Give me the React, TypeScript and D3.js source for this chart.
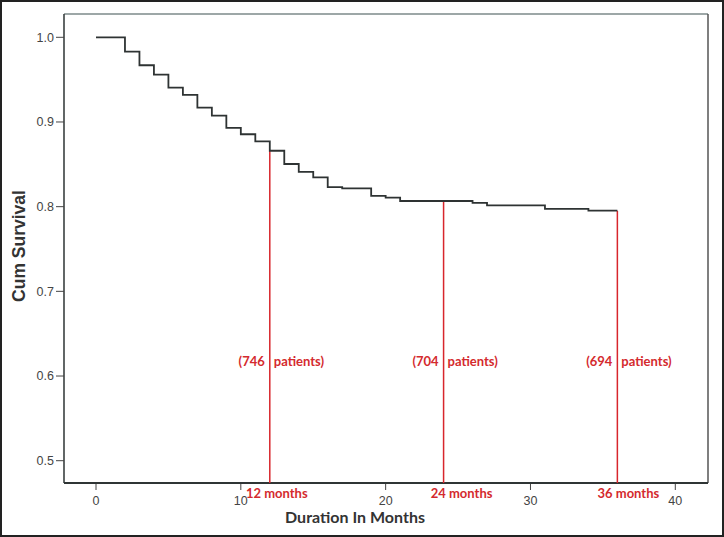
import React from "react";
import * as d3 from "d3";

const times = [0, 2, 3, 4, 5, 6, 7, 8, 9, 10, 11, 12, 13, 14, 15, 16, 17, 19, 20, 21, 26, 27, 31, 34, 36];
const survival = [1.0, 0.983, 0.967, 0.956, 0.9405, 0.932, 0.917, 0.9075, 0.893, 0.8855, 0.877, 0.866, 0.8504, 0.841, 0.8347, 0.823, 0.8215, 0.8127, 0.8107, 0.8067, 0.8044, 0.8016, 0.7973, 0.7953, 0.7953];

const xTicks = [0, 10, 20, 30, 40];
const yTicks = [0.5, 0.6, 0.7, 0.8, 0.9, 1.0];

const markMonths = [12, 24, 36];
const markPatients = ["746", "704", "694"];
const markLabels = ["12 months", "24 months", "36 months"];

const W = 724;
const H = 537;

export default function App() {
  const x = d3.scaleLinear().domain([0, 40]).range([96, 675.3]);
  const y = d3.scaleLinear().domain([0.5, 1.0]).range([460.7, 37.3]);

  const left = 64, right = 708, top = 14, bottom = 483;

  const pts: [number, number][] = times.map((t, i) => [t, survival[i]]);
  const line = d3
    .line<[number, number]>()
    .x((d) => x(d[0]))
    .y((d) => y(d[1]))
    .curve(d3.curveStepAfter);

  const survAt = (t: number) => {
    let v = survival[0];
    for (let i = 0; i < times.length; i++) if (times[i] <= t) v = survival[i];
    return v;
  };

  const red = "#d8262c";
  const redText = "#d42a2e";
  const monthDx = [7, 18, 11];

  return (
    <svg
      width={W}
      height={H}
      style={{ position: "absolute", left: 0, top: 0, background: "#fff" }}
    >
      <rect x={1} y={1} width={W - 2} height={H - 2} fill="#fff" stroke="#222" strokeWidth={2} />
      {/* plot frame */}
      <line x1={left} x2={right} y1={top} y2={top} stroke="#7d8a8a" strokeWidth={1.3} />
      <line x1={right} x2={right} y1={top} y2={bottom} stroke="#555" strokeWidth={1.5} />
      <line x1={left} x2={left} y1={top} y2={bottom} stroke="#3a4040" strokeWidth={1.6} />
      <line x1={left} x2={right} y1={bottom} y2={bottom} stroke="#2f3535" strokeWidth={1.8} />

      {/* y ticks */}
      {yTicks.map((v) => (
        <g key={v}>
          <line x1={56} x2={left} y1={y(v)} y2={y(v)} stroke="#444" strokeWidth={1} />
          <text
            x={54}
            y={y(v)}
            dy="0.35em"
            textAnchor="end"
            fontFamily="Liberation Sans, Arial, sans-serif"
            fontSize={12.5}
            fill="#444"
          >
            {v.toFixed(1)}
          </text>
        </g>
      ))}

      {/* x ticks */}
      {xTicks.map((t) => (
        <g key={t}>
          <line x1={x(t)} x2={x(t)} y1={bottom + 1} y2={bottom + 7} stroke="#444" strokeWidth={1} />
          <text
            x={x(t)}
            y={505}
            textAnchor="middle"
            fontFamily="Liberation Sans, Arial, sans-serif"
            fontSize={12.5}
            fill="#444"
          >
            {t}
          </text>
        </g>
      ))}

      {/* red reference lines */}
      {markMonths.map((m, i) => (
        <g key={m}>
          <line x1={x(m)} x2={x(m)} y1={y(survAt(m))} y2={bottom} stroke={red} strokeWidth={1.5} />
          <text
            x={x(m) - 5}
            y={366}
            textAnchor="end"
            fontFamily="Lato, sans-serif"
            fontWeight="bold"
            fontSize={13}
            fill={redText}
          >
            {"(" + markPatients[i]}
          </text>
          <text
            x={x(m) + 4}
            y={366}
            textAnchor="start"
            fontFamily="Lato, sans-serif"
            fontWeight="bold"
            fontSize={13}
            fill={redText}
          >
            patients)
          </text>
          <text
            x={x(m) + monthDx[i]}
            y={498}
            textAnchor="middle"
            fontFamily="Lato, sans-serif"
            fontWeight="bold"
            fontSize={13}
            fill={redText}
          >
            {markLabels[i]}
          </text>
        </g>
      ))}

      {/* survival curve */}
      <path d={line(pts) || ""} fill="none" stroke="#2e3333" strokeWidth={1.8} />

      {/* axis titles */}
      <text
        transform={`translate(25, 246) rotate(-90)`}
        textAnchor="middle"
        fontFamily="Liberation Sans, Arial, sans-serif"
        fontWeight="bold"
        fontSize={17.5}
        fill="#333"
      >
        Cum Survival
      </text>
      <text
        x={355}
        y={523}
        textAnchor="middle"
        fontFamily="Lato, sans-serif"
        fontWeight="bold"
        fontSize={16}
        fill="#333"
      >
        Duration In Months
      </text>
    </svg>
  );
}
